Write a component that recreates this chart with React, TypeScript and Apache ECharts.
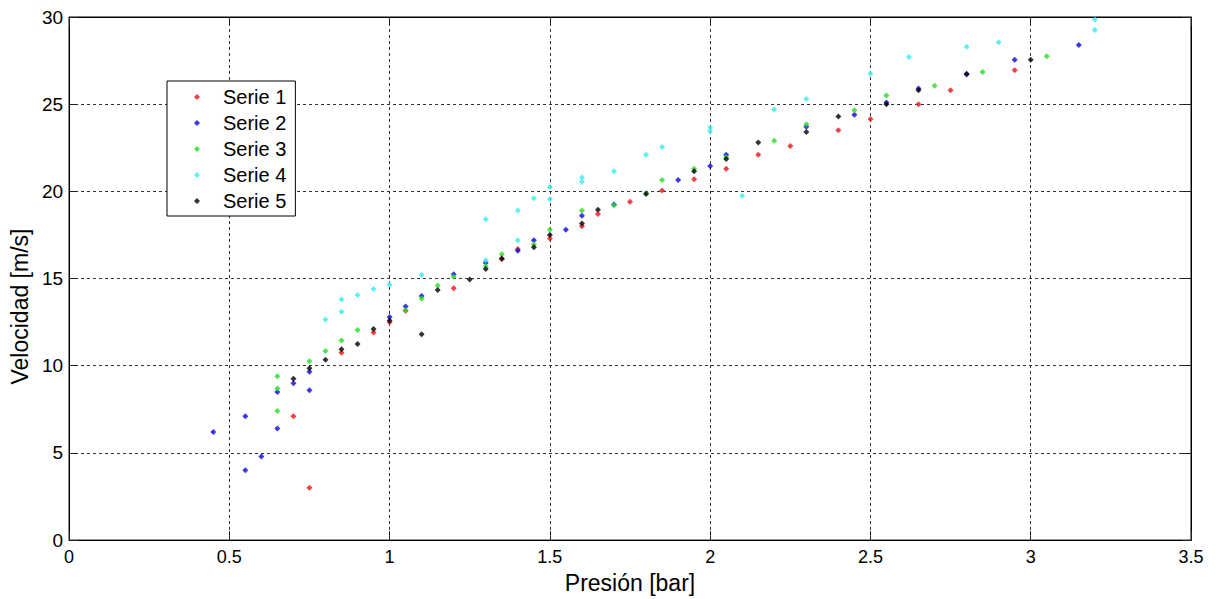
import React, { useEffect, useRef } from "react";
import * as echarts from "echarts";

const seriesNames = ["Serie 1", "Serie 2", "Serie 3", "Serie 4", "Serie 5"];
const seriesColors = ["#f01010", "#0808e0", "#20e020", "#30f0f0", "#000000"];

const serie1: [number, number][] = [
  [0.7, 7.1], [0.75, 3.0], [0.85, 10.75], [0.95, 11.9], [1.0, 12.5], [1.05, 13.15],
  [1.2, 14.45], [1.35, 16.1], [1.4, 16.7], [1.5, 17.3], [1.6, 18.0], [1.65, 18.7],
  [1.75, 19.4], [1.85, 20.05], [1.95, 20.7], [2.05, 21.3], [2.15, 22.1], [2.25, 22.6],
  [2.4, 23.5], [2.5, 24.15], [2.65, 25.0], [2.75, 25.8], [2.95, 26.95],
];

const serie2: [number, number][] = [
  [0.45, 6.2], [0.55, 7.1], [0.55, 4.0], [0.6, 4.8], [0.65, 8.5], [0.65, 6.4],
  [0.7, 9.0], [0.75, 9.65], [0.75, 8.6], [1.0, 12.8], [1.05, 13.4], [1.1, 14.0],
  [1.2, 15.25], [1.3, 15.9], [1.4, 16.6], [1.45, 17.2], [1.55, 17.8], [1.6, 18.6],
  [1.7, 19.25], [1.9, 20.65], [2.0, 21.45], [2.05, 22.1], [2.3, 23.7], [2.45, 24.4],
  [2.55, 25.1], [2.65, 25.9], [2.8, 26.7], [2.95, 27.55], [3.15, 28.4],
];

const serie3: [number, number][] = [
  [0.65, 9.4], [0.65, 8.7], [0.65, 7.4], [0.75, 10.25], [0.8, 10.85], [0.85, 11.45],
  [0.9, 12.05], [1.05, 13.2], [1.1, 13.85], [1.15, 14.6], [1.2, 15.1], [1.3, 15.7],
  [1.35, 16.4], [1.45, 16.95], [1.5, 17.8], [1.6, 18.9], [1.7, 19.2], [1.8, 19.9],
  [1.85, 20.65], [1.95, 21.3], [2.05, 21.95], [2.2, 22.9], [2.3, 23.85], [2.45, 24.65],
  [2.55, 25.5], [2.7, 26.05], [2.85, 26.85], [3.05, 27.75],
];

const serie4: [number, number][] = [
  [0.8, 12.65], [0.85, 13.8], [0.85, 13.1], [0.9, 14.05], [0.95, 14.4], [1.0, 14.65],
  [1.1, 15.2], [1.3, 18.4], [1.3, 16.05], [1.4, 18.9], [1.4, 17.2], [1.45, 19.6],
  [1.5, 20.25], [1.5, 19.55], [1.6, 20.55], [1.6, 20.8], [1.7, 21.15], [1.8, 22.1],
  [1.85, 22.55], [2.0, 23.65], [2.0, 23.45], [2.1, 19.75], [2.2, 24.7], [2.3, 25.3],
  [2.5, 26.75], [2.62, 27.7], [2.8, 28.3], [2.9, 28.55], [3.2, 29.85], [3.2, 29.25],
];

const serie5: [number, number][] = [
  [0.7, 9.25], [0.75, 9.85], [0.8, 10.35], [0.85, 10.95], [0.9, 11.25], [0.95, 12.1],
  [1.0, 12.6], [1.1, 11.8], [1.15, 14.35], [1.25, 14.95], [1.3, 15.55], [1.35, 16.15],
  [1.45, 16.8], [1.5, 17.5], [1.6, 18.15], [1.65, 18.95], [1.8, 19.85], [1.95, 21.15],
  [2.05, 21.85], [2.15, 22.8], [2.3, 23.4], [2.4, 24.3], [2.55, 25.0], [2.65, 25.8],
  [2.8, 26.75], [3.0, 27.55],
];

const allSeries = [serie1, serie2, serie3, serie4, serie5];

const xName = "Presión [bar]";
const yName = "Velocidad [m/s]";
const xMin = 0, xMax = 3.5, xStep = 0.5;
const yMin = 0, yMax = 30, yStep = 5;

const FONT = "'Liberation Sans', Arial, sans-serif";

export default function App() {
  const ref = useRef<HTMLDivElement>(null);
  useEffect(() => {
    document.body.style.margin = "0";
    const chart = echarts.init(ref.current!, undefined, { renderer: "svg" });
    const tick = { show: true, inside: true, length: 9, lineStyle: { color: "#222", width: 1 } };
    const line = { show: true, onZero: false, lineStyle: { color: "#000", width: 1 } };
    chart.setOption({
      animation: false,
      backgroundColor: "#fff",
      textStyle: { fontFamily: FONT },
      grid: { left: 69, right: 28, top: 17, bottom: 56, show: true, borderColor: "#000", borderWidth: 1 },
      legend: {
        orient: "vertical",
        left: 167,
        top: 81,
        data: seriesNames,
        icon: "diamond",
        itemWidth: 6,
        itemHeight: 6,
        itemGap: 6,
        padding: [6, 9, 5, 27],
        backgroundColor: "#fff",
        borderColor: "#000",
        borderWidth: 1,
        borderRadius: 0,
        textStyle: { fontFamily: FONT, fontSize: 20, color: "#000", lineHeight: 20, padding: [0, 0, 0, 18] },
      },
      xAxis: [
        {
          type: "value", min: xMin, max: xMax, interval: xStep,
          name: xName, nameLocation: "middle", nameGap: 26,
          nameTextStyle: { fontFamily: FONT, fontSize: 23, color: "#000" },
          axisLine: line, axisTick: tick,
          axisLabel: { fontFamily: FONT, fontSize: 18, color: "#000", margin: 8 },
          splitLine: { show: true, lineStyle: { color: "#333", type: [3, 3], width: 1 } },
        },
        {
          type: "value", position: "top", min: xMin, max: xMax, interval: xStep,
          axisLine: line, axisTick: tick, axisLabel: { show: false }, splitLine: { show: false },
        },
      ],
      yAxis: [
        {
          type: "value", min: yMin, max: yMax, interval: yStep,
          name: yName, nameLocation: "middle", nameGap: 30,
          nameTextStyle: { fontFamily: FONT, fontSize: 23, color: "#000", padding: [0, 56, 0, 0] },
          axisLine: line, axisTick: tick,
          axisLabel: { fontFamily: FONT, fontSize: 19, color: "#000", margin: 6 },
          splitLine: { show: true, lineStyle: { color: "#333", type: [3, 3], width: 1 } },
        },
        {
          type: "value", position: "right", min: yMin, max: yMax, interval: yStep,
          axisLine: line, axisTick: tick, axisLabel: { show: false }, splitLine: { show: false },
        },
      ],
      series: allSeries.map((d, i) => ({
        name: seriesNames[i],
        type: "scatter",
        data: d,
        symbol: "diamond",
        symbolSize: 6,
        itemStyle: { color: seriesColors[i] },
        xAxisIndex: 0,
        yAxisIndex: 0,
      })),
    });
    return () => chart.dispose();
  }, []);
  return <div ref={ref} style={{ width: 1219, height: 599, position: "absolute", left: 0, top: 0 }} />;
}
